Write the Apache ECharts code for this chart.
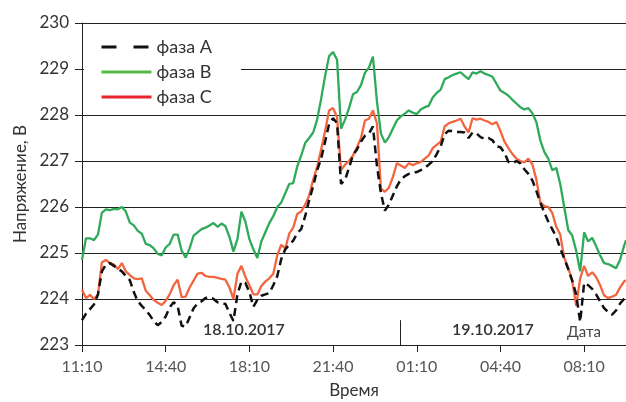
<!DOCTYPE html>
<html>
<head>
<meta charset="utf-8">
<script src="https://cdn.jsdelivr.net/npm/echarts@6/dist/echarts.min.js"></script>
<style>
  html, body { margin: 0; padding: 0; background: #fff; }
  #chart { width: 626px; height: 402px; }
</style>
</head>
<body>
<div id="chart"></div>
<script>
// minutes since 11:10 on 18.10.2017
const times = [
  0, 10, 20, 30, 40, 50, 60, 70, 80, 90,
  100, 110, 120, 130, 140, 150, 160, 170, 180, 190,
  200, 210, 220, 230, 240, 250, 260, 270, 280, 290,
  300, 310, 320, 330, 340, 350, 360, 370, 380, 390,
  400, 410, 420, 430, 440, 450, 460, 470, 480, 490,
  500, 510, 520, 530, 540, 550, 560, 570, 580, 590,
  600, 610, 620, 630, 640, 650, 660, 670, 680, 690,
  700, 710, 720, 730, 740, 750, 760, 770, 780, 790,
  800, 810, 820, 830, 840, 850, 860, 870, 880, 890,
  900, 910, 920, 930, 940, 950, 960, 970, 980, 990,
  1000, 1010, 1020, 1030, 1040, 1050, 1060, 1070, 1080, 1090,
  1100, 1110, 1120, 1130, 1140, 1150, 1160, 1170, 1180, 1190,
  1200, 1210, 1220, 1230, 1240, 1250, 1260, 1270, 1280, 1290,
  1300, 1310, 1320, 1330, 1340, 1350, 1360, 1365
];

const phaseA = [
  223.54, 223.68, 223.78, 223.88, 224.10, 224.60, 224.75, 224.78, 224.72, 224.66,
  224.60, 224.50, 224.41, 224.15, 223.95, 223.85, 223.76, 223.65, 223.52, 223.43,
  223.50, 223.62, 223.82, 223.93, 223.85, 223.42, 223.40, 223.60, 223.80, 223.90,
  223.95, 224.02, 224.04, 224.00, 223.93, 223.91, 223.89, 223.70, 223.52, 224.10,
  224.38, 224.35, 224.15, 223.83, 223.98, 224.07, 224.10, 224.13, 224.30, 224.50,
  224.87, 225.08, 225.18, 225.27, 225.43, 225.52, 225.80, 226.15, 226.45, 226.80,
  227.05, 227.42, 227.80, 227.93, 227.82, 226.50, 226.59, 226.85, 227.13, 227.25,
  227.42, 227.55, 227.60, 227.75, 226.90, 226.30, 225.92, 226.05, 226.25, 226.45,
  226.60, 226.67, 226.72, 226.74, 226.76, 226.80, 226.85, 226.92, 227.00, 227.15,
  227.32, 227.58, 227.66, 227.65, 227.63, 227.63, 227.62, 227.50, 227.62, 227.60,
  227.52, 227.48, 227.50, 227.45, 227.32, 227.30, 227.18, 226.98, 226.95, 227.00,
  226.95, 226.82, 226.72, 226.58, 226.35, 226.10, 225.88, 225.68, 225.52, 225.35,
  225.10, 224.88, 224.65, 224.40, 224.10, 223.50, 224.35, 224.30, 224.22, 224.10,
  223.95, 223.80, 223.72, 223.66, 223.75, 223.90, 224.00, 224.02
];

const phaseB = [
  224.85, 225.32, 225.32, 225.28, 225.40, 225.88, 225.95, 225.93, 225.96, 225.95,
  226.00, 225.90, 225.66, 225.60, 225.48, 225.42, 225.20, 225.17, 225.10, 224.98,
  224.95, 225.12, 225.20, 225.40, 225.40, 225.05, 224.90, 225.10, 225.38, 225.45,
  225.52, 225.55, 225.60, 225.65, 225.57, 225.64, 225.58, 225.35, 225.03, 225.30,
  225.90, 225.68, 225.30, 225.08, 224.89, 225.25, 225.45, 225.65, 225.80, 226.00,
  226.10, 226.30, 226.50, 226.52, 226.88, 227.12, 227.39, 227.50, 227.62, 227.90,
  228.35, 228.85, 229.28, 229.37, 229.20, 227.70, 227.90, 228.15, 228.45, 228.50,
  228.65, 228.92, 229.03, 229.27, 228.30, 227.60, 227.40, 227.52, 227.70, 227.88,
  227.97, 228.03, 228.10, 228.05, 228.02, 228.12, 228.17, 228.20, 228.38, 228.48,
  228.55, 228.78, 228.82, 228.87, 228.90, 228.93, 228.85, 228.78, 228.93, 228.90,
  228.95, 228.90, 228.87, 228.83, 228.68, 228.53, 228.48, 228.42, 228.33, 228.25,
  228.17, 228.12, 228.15, 228.04, 227.85, 227.45, 227.20, 227.05, 226.80, 226.85,
  226.50, 226.00, 225.50, 225.38, 225.05, 224.60, 225.45, 225.25, 225.33, 225.15,
  224.95, 224.78, 224.76, 224.72, 224.67, 224.85, 225.15, 225.28
];

const phaseC = [
  224.20, 224.02, 224.09, 224.00, 224.09, 224.80, 224.85, 224.78, 224.75, 224.65,
  224.78, 224.60, 224.52, 224.45, 224.43, 224.45, 224.18, 224.08, 223.98, 223.92,
  223.87, 223.96, 224.10, 224.30, 224.42, 224.04, 224.05, 224.25, 224.40, 224.55,
  224.57, 224.50, 224.48, 224.48, 224.46, 224.44, 224.42, 224.25, 224.00, 224.55,
  224.72, 224.48, 224.30, 224.10, 224.10, 224.28, 224.38, 224.45, 224.55, 224.95,
  225.18, 225.10, 225.42, 225.55, 225.85, 225.90, 226.05, 226.25, 226.59, 226.87,
  227.25, 227.65, 228.10, 228.15, 227.95, 226.80, 226.92, 227.00, 227.12, 227.30,
  227.50, 227.88, 227.92, 228.10, 227.82, 226.40, 226.33, 226.42, 226.65, 226.95,
  226.90, 226.85, 226.95, 226.91, 226.95, 226.98, 227.05, 227.12, 227.28, 227.35,
  227.42, 227.75, 227.82, 227.85, 227.88, 227.92, 227.75, 227.62, 227.93, 227.90,
  227.92, 227.88, 227.85, 227.80, 227.85, 227.65, 227.42, 227.28, 227.15, 227.05,
  227.00, 226.97, 227.05, 226.93, 226.60, 226.10, 226.02, 226.00, 225.87, 225.57,
  225.40, 224.90, 224.68, 224.40, 223.85, 224.45, 224.72, 224.50, 224.58, 224.48,
  224.30, 224.08, 224.02, 224.05, 224.09, 224.25, 224.38, 224.41
];

const tickLabels = ["11:10", "14:40", "18:10", "21:40", "01:10", "04:40", "08:10"];
const seriesNames = ["фаза A", "фаза B", "фаза C"];
const dateSplit = 798; // minutes, separator between the two dates

const FONT = "Lato, 'Open Sans', sans-serif";
const pairs = (vals) => times.map((t, i) => [t, vals[i]]);

const chart = echarts.init(document.getElementById("chart"), null, { renderer: "canvas" });

// hide the legend symbol, keep only the line
const noSymbol = { color: "rgba(0,0,0,0)", borderWidth: 0, opacity: 0 };

const option = {
  animation: false,
  textStyle: { fontFamily: FONT },
  grid: { left: 82, right: 0, top: 23, bottom: 57, outerBoundsMode: "none" },
  legend: {
    orient: "vertical",
    left: 84,
    top: 30,
    padding: [8, 29, 6, 16],
    backgroundColor: "#fff",
    itemWidth: 50,
    itemHeight: 14,
    itemGap: 7,
    selectedMode: false,
    textStyle: { fontSize: 18, color: "#333" },
    data: [
      { name: seriesNames[0], itemStyle: noSymbol, lineStyle: { color: "#111", width: 3, type: [15, 17] } },
      { name: seriesNames[1], itemStyle: noSymbol, lineStyle: { color: "#55b948", width: 3 } },
      { name: seriesNames[2], itemStyle: noSymbol, lineStyle: { color: "#e8242b", width: 3 } }
    ]
  },
  xAxis: {
    type: "value",
    min: 0,
    max: 1365,
    interval: 210,
    name: "Время",
    nameLocation: "middle",
    nameGap: 37,
    nameTextStyle: { fontSize: 17, color: "#333" },
    axisLine: { lineStyle: { color: "#222", width: 1 } },
    axisTick: { length: 7, lineStyle: { color: "#222" } },
    axisLabel: {
      fontSize: 16,
      color: "#555",
      margin: 14,
      formatter: (v) => tickLabels[Math.round(v / 210)] || ""
    },
    splitLine: { show: false }
  },
  yAxis: {
    type: "value",
    min: 223,
    max: 230,
    interval: 1,
    name: "Напряжение, В",
    nameLocation: "middle",
    nameGap: 48,
    nameTextStyle: { fontSize: 17, color: "#333" },
    axisLine: { show: true, lineStyle: { color: "#222", width: 1 } },
    axisTick: { show: true, length: 7, lineStyle: { color: "#222" } },
    axisLabel: { fontSize: 17, color: "#333", margin: 13 },
    splitLine: { lineStyle: { color: "#222", width: 1 } }
  },
  series: [
    {
      name: seriesNames[0],
      type: "line",
      data: pairs(phaseA),
      symbol: "none",
      z: 5,
      lineStyle: { color: "#111", width: 2.5, type: [8, 5] },
      itemStyle: { color: "#111" },
      markLine: {
        silent: true,
        symbol: "none",
        label: { show: false },
        lineStyle: { color: "#222", width: 1, type: "solid" },
        data: [[{ coord: [dateSplit, 223] }, { coord: [dateSplit, 223.54] }]]
      }
    },
    {
      name: seriesNames[1],
      type: "line",
      data: pairs(phaseB),
      symbol: "none",
      z: 3,
      lineStyle: { color: "#2eaa5a", width: 2.3 },
      itemStyle: { color: "#2eaa5a" }
    },
    {
      name: seriesNames[2],
      type: "line",
      data: pairs(phaseC),
      symbol: "none",
      z: 4,
      lineStyle: { color: "#f2653f", width: 2.3 },
      itemStyle: { color: "#f2653f" }
    }
  ],
  graphic: [
    { type: "text", left: 203, top: 322, style: { text: "18.10.2017", font: "600 16px " + FONT, fill: "#333" } },
    { type: "text", left: 452, top: 322, style: { text: "19.10.2017", font: "600 16px " + FONT, fill: "#333" } },
    { type: "text", left: 567, top: 325, style: { text: "Дата", font: "15px " + FONT, fill: "#444" } }
  ]
};

chart.setOption(option);
</script>
</body>
</html>
